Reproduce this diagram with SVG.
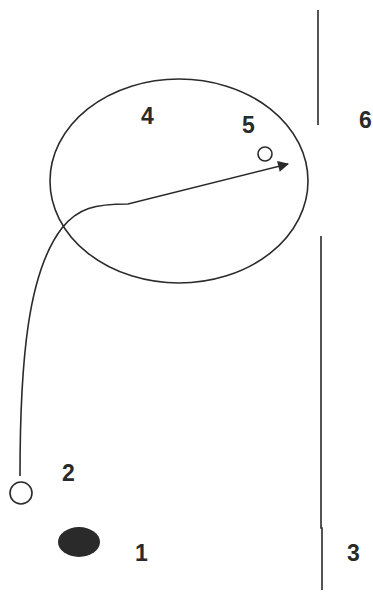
<svg xmlns="http://www.w3.org/2000/svg" width="373" height="592" viewBox="0 0 373 592">
<style>
.ln{fill:none;stroke:#2a2a2a;stroke-width:1.6}
.lbl{font-family:"Liberation Sans",Arial,sans-serif;font-weight:bold;font-size:23px;fill:#2a2a2a}
</style>
<defs>
<marker id="ah" viewBox="0 0 10 10" refX="9" refY="5" markerWidth="12" markerHeight="11" markerUnits="userSpaceOnUse" orient="auto">
<path d="M0,0 L10,5 L0,10 z" fill="#2a2a2a"/>
</marker>
</defs>
<rect width="373" height="592" fill="#fff"/>
<g id="connectors">
<path class="ln" d="M20,476 C20,360 28,272 62,228 C78,208 95,204 128,204 L288,164" marker-end="url(#ah)"/>
</g>
<g id="zone4"><ellipse class="ln" cx="179" cy="181" rx="129" ry="102"/></g>
<g id="line-top"><line class="ln" x1="318" y1="10" x2="318" y2="125" stroke-width="2"/></g>
<g id="line-bottom"><polyline class="ln" points="321,236 321,528 322,528 322,590" stroke-width="2"/></g>
<g id="n2"><circle class="ln" cx="21" cy="493" r="11"/></g>
<g id="n5"><circle class="ln" cx="265" cy="154" r="7"/></g>
<g id="n1"><ellipse cx="79" cy="542" rx="21" ry="15" fill="#2a2a2a"/></g>
<g id="labels">
<text class="lbl" x="141" y="124">4</text>
<text class="lbl" x="242" y="133">5</text>
<text class="lbl" x="359" y="128">6</text>
<text class="lbl" x="62" y="481">2</text>
<text class="lbl" x="135" y="561">1</text>
<text class="lbl" x="347" y="561">3</text>
</g>
</svg>
